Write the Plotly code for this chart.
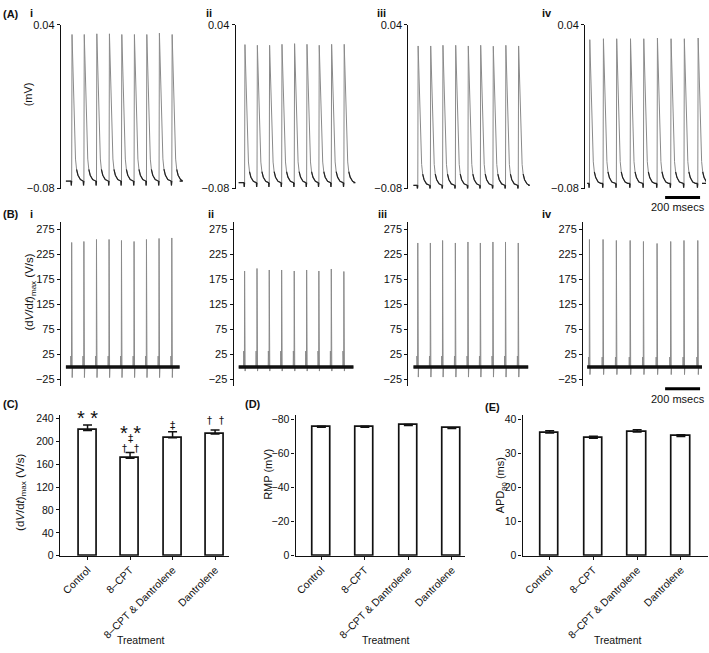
import plotly.graph_objects as go

# ------------------------------------------------------------------ data
PANELS = ["i", "ii", "iii", "iv"]

# spike onset times (ms from start of each recording)
SPIKE_TIMES_MS = {
    "i":   [33, 103, 175, 247, 318, 390, 461, 533, 606],
    "ii":  [34, 105, 175, 246, 318, 389, 459, 530, 602],
    "iii": [25, 97, 167, 240, 312, 383, 455, 527, 600],
    "iv":  [13, 91, 167, 246, 322, 400, 478, 554, 633],
}
TRACE_END_MS = {"i": 651, "ii": 657, "iii": 657, "iv": 657}

# (A) membrane potential traces (V)
AP_PEAK_V = {
    "i":   [0.0328, 0.0328, 0.0333, 0.0333, 0.0328, 0.0328, 0.0328, 0.0338, 0.0328],
    "ii":  [0.0254, 0.0249, 0.0249, 0.0256, 0.0261, 0.0256, 0.0249, 0.0256, 0.0256],
    "iii": [0.0244, 0.0244, 0.0249, 0.0249, 0.0244, 0.0249, 0.0242, 0.0249, 0.0244],
    "iv":  [0.0290, 0.0297, 0.0297, 0.0297, 0.0297, 0.0302, 0.0297, 0.0297, 0.0302],
}
AP_REST_V = {"i": -0.0745, "ii": -0.0757, "iii": -0.0776, "iv": -0.0762}
# action-potential waveform: time after onset (ms), fraction of amplitude
AP_SHAPE_MS = [-4, -2, -1, 0, 2, 6, 10, 14, 18, 22, 28, 36, 50, 65]
AP_SHAPE_FRAC = [0, -0.03, 0, 0, 1.0, 0.8, 0.6, 0.4, 0.25, 0.15, 0.08, 0.04, 0.01, 0]

# (B) dV/dt traces (V/s)
DVDT_PEAK = {
    "i":   [249, 251, 255, 255, 253, 251, 255, 257, 258],
    "ii":  [192, 197, 194, 194, 192, 194, 192, 196, 191],
    "iii": [248, 248, 253, 248, 250, 248, 250, 250, 248],
    "iv":  [255, 255, 253, 253, 251, 247, 251, 253, 253],
}
DVDT_STIM = {"i": 22, "ii": 32, "iii": 22, "iv": 20}
DVDT_DIP = {"i": -21, "ii": -8, "iii": -20, "iv": -15}

SCALE_BAR_MS = 200
SCALE_BAR_START_MS = 446

# (C)-(E) summary bars
TREATMENTS = ["Control", "8–CPT", "8–CPT & Dantrolene", "Dantrolene"]
DVDT_MEAN = [219.0, 170.5, 206.5, 213.0]
DVDT_SEM = [9.6, 10.0, 10.3, 6.8]
RMP_MEAN = [-75.4, -75.3, -76.4, -74.6]
RMP_SEM = [0.5, 0.6, 0.6, 0.5]
APD_MEAN = [36.0, 34.5, 36.3, 35.0]
APD_SEM = [0.7, 0.6, 0.7, 0.5]
SIG_MARKS = [
    (0, "* *"),
    (1, "* *"), (1, "‡"), (1, "†\u2002\u2009†"),
    (2, "‡"),
    (3, "†\u2002\u2009†"),
]

# ------------------------------------------------------------------ layout helpers
W, H = 709, 653
FONT = "Liberation Sans, Arial, sans-serif"
SYMFONT = "DejaVu Sans, sans-serif"
K = 200 / 35.0  # ms per pixel in the trace panels


def px(x):
    return x / W


def py(y):
    return 1 - y / H


A_AXIS_X = [60, 235, 408, 585]
B_AXIS_X = [60, 233, 408, 583]
TRACE_START_PX = [65, 238, 413, 587]
DOM_END_PX = [182, 356, 531, 706]

fig = go.Figure()
layout = {}
annotations = []
shapes = []


def axis_common(size=11):
    return dict(showgrid=False, zeroline=False, showline=True, linecolor="#111",
                linewidth=1.3, ticks="outside", ticklen=3, tickwidth=1.2, tickcolor="#111",
                tickfont=dict(family=FONT, size=size, color="#111"))


# ---- (A) and (B) traces
for k, p in enumerate(PANELS):
    times = SPIKE_TIMES_MS[p]
    end = TRACE_END_MS[p]
    # ---- A
    n = k + 1
    rest = AP_REST_V[p]
    xs, ys, fx, fy = [0], [rest], [0], [rest]
    for t, pk in zip(times, AP_PEAK_V[p]):
        amp = pk - rest
        for dt, f in zip(AP_SHAPE_MS, AP_SHAPE_FRAC):
            xs.append(t + dt)
            ys.append(rest + f * amp)
            fx.append(t + dt)
            fy.append(rest + f * amp if f <= 0.09 else None)
    xs.append(end); ys.append(rest); fx.append(end); fy.append(rest)
    fig.add_trace(go.Scatter(x=xs, y=ys, mode="lines", line=dict(color="#8a8a8a", width=1),
                             xaxis=f"x{n}", yaxis=f"y{n}", showlegend=False, hoverinfo="skip"))
    fig.add_trace(go.Scatter(x=fx, y=fy, mode="lines", line=dict(color="#222", width=1.2),
                             connectgaps=False,
                             xaxis=f"x{n}", yaxis=f"y{n}", showlegend=False, hoverinfo="skip"))
    ts = TRACE_START_PX[k]
    layout[f"xaxis{n}"] = dict(domain=[px(A_AXIS_X[k]), px(DOM_END_PX[k])],
                               range=[-(ts - A_AXIS_X[k]) * K, (DOM_END_PX[k] - ts) * K],
                               visible=False, anchor=f"y{n}")
    layout[f"yaxis{n}"] = dict(domain=[py(186), py(19)], range=[-0.08, 0.04],
                               tickvals=[-0.08, 0.04], tickformat=".2f", anchor=f"x{n}",
                               **axis_common())
    # ---- B
    n = k + 5
    xs, ys = [0], [0]
    for t, pk in zip(times, DVDT_PEAK[p]):
        for dt, v in [(-6, 0), (-5, DVDT_STIM[p]), (-4, 0), (-1, 0), (0, pk), (1, 0),
                      (3, DVDT_DIP[p]), (5, 0)]:
            xs.append(t + dt)
            ys.append(v)
    xs.append(end); ys.append(0)
    fig.add_trace(go.Scatter(x=xs, y=ys, mode="lines", line=dict(color="#8a8a8a", width=1),
                             xaxis=f"x{n}", yaxis=f"y{n}", showlegend=False, hoverinfo="skip"))
    fig.add_trace(go.Scatter(x=[0, end], y=[0, 0], mode="lines", line=dict(color="#111", width=3.5),
                             xaxis=f"x{n}", yaxis=f"y{n}", showlegend=False, hoverinfo="skip"))
    layout[f"xaxis{n}"] = dict(domain=[px(B_AXIS_X[k]), px(DOM_END_PX[k])],
                               range=[-(ts - B_AXIS_X[k]) * K, (DOM_END_PX[k] - ts) * K],
                               visible=False, anchor=f"y{n}")
    layout[f"yaxis{n}"] = dict(domain=[py(386.7), py(220)], range=[-37, 290],
                               tickvals=[-25, 25, 75, 125, 175, 225, 275], anchor=f"x{n}",
                               **axis_common())

# scale bars
for xr, ybar, ytxt in [("x4", 195, 205), ("x8", 390, 400.5)]:
    shapes.append(dict(type="line", xref=xr, yref="paper", x0=SCALE_BAR_START_MS,
                       x1=SCALE_BAR_START_MS + SCALE_BAR_MS, y0=py(ybar), y1=py(ybar),
                       line=dict(color="black", width=3)))
    annotations.append(dict(xref="paper", yref="paper", x=px(707), y=py(ytxt),
                            text=f"{SCALE_BAR_MS} msecs", showarrow=False,
                            font=dict(family=FONT, size=11, color="#111"),
                            xanchor="right", yanchor="middle"))

# ---- (C)-(E) bars
bar_specs = [
    (9, DVDT_MEAN, DVDT_SEM, [59, 228], [-0.65, 3.32], [0, 246], [0, 40, 80, 120, 160, 200, 240], False),
    (10, RMP_MEAN, RMP_SEM, [295, 465], [-0.593, 3.31], [0, -82.5], [0, -20, -40, -60, -80], True),
    (11, APD_MEAN, APD_SEM, [522.3, 708], [-0.62, 3.62], [0, 41.3], [0, 10, 20, 30, 40], False),
]
for n, mean, sem, xd, xr, yr, tv, neg in bar_specs:
    err = dict(type="data", symmetric=False, color="#111", thickness=1.5, width=4.5)
    if neg:
        err.update(array=[0] * len(sem), arrayminus=sem)
    else:
        err.update(array=sem, arrayminus=[0] * len(sem))
    fig.add_trace(go.Bar(x=list(range(len(TREATMENTS))), y=mean, width=0.42,
                         marker=dict(color="white", line=dict(color="#111", width=1.7)),
                         error_y=err, xaxis=f"x{n}", yaxis=f"y{n}", showlegend=False,
                         hoverinfo="skip"))
    layout[f"xaxis{n}"] = dict(domain=[px(xd[0]), px(xd[1])], range=xr, anchor=f"y{n}",
                               tickvals=list(range(len(TREATMENTS))), ticktext=TREATMENTS,
                               tickangle=-45, **axis_common(10.5))
    layout[f"yaxis{n}"] = dict(domain=[py(560), py(416.7)], range=yr, tickvals=tv,
                               anchor=f"x{n}", **axis_common(10.5))

# significance marks on (C)
sig_y_px = [415, 430, 438.5, 447, 425, 418]
for (ci, txt), yp in zip(SIG_MARKS, sig_y_px):
    star = txt.startswith("*")
    dagger = txt.startswith("†")
    shift = 5 if star else (4 if dagger else 1.5)
    annotations.append(dict(xref="x9", yref="paper", x=ci, y=py(yp + shift), text=txt,
                            showarrow=False, xanchor="center", yanchor="middle",
                            font=dict(family=FONT if star else SYMFONT,
                                      size=20 if star else (10 if dagger else 10.5),
                                      color="#111")))

# ---- text labels
def label(x, y, text, size=11, bold=False, angle=0, xanchor="left"):
    t = f"<b>{text}</b>" if bold else text
    annotations.append(dict(xref="paper", yref="paper", x=px(x), y=py(y), text=t,
                            showarrow=False, xanchor=xanchor, yanchor="middle",
                            textangle=angle, font=dict(family=FONT, size=size, color="#111")))


label(0, 8, "(A)", bold=True)
label(0, 212, "(B)", bold=True)
label(0, 405, "(C)", bold=True)
label(242, 405, "(D)", bold=True)
label(483, 409, "(E)", bold=True)
for x, t in zip([31, 208, 381, 547], PANELS):
    label(x, 7, t, bold=True, xanchor="center")
for x, t in zip([31, 210, 382, 547], PANELS):
    label(x, 212, t, bold=True, xanchor="center")

DVDT_TITLE = "(d<i>V</i>/d<i>t</i>)<sub>max</sub> (V/s)"
label(27, 90, "(mV)", angle=-90, xanchor="center")
label(29, 291, DVDT_TITLE, size=11.5, angle=-90, xanchor="center")
label(20, 495, DVDT_TITLE, size=11.5, angle=-90, xanchor="center")
label(268, 477, "RMP (mV)", angle=-90, xanchor="center")
label(501, 488, "APD<sub>90</sub> (ms)", angle=-90, xanchor="center")
for x in [140, 386, 618]:
    label(x, 646, "Treatment", size=10.5, xanchor="center")

fig.update_layout(width=W, height=H, margin=dict(l=0, r=0, t=0, b=0),
                  plot_bgcolor="white", paper_bgcolor="white",
                  font=dict(family=FONT, size=11, color="#111"),
                  annotations=annotations, shapes=shapes, bargap=0, **layout)

fig.write_html("out.html", config={"displayModeBar": False},
               post_script="document.body.style.margin='0';document.body.style.overflow='hidden';")
